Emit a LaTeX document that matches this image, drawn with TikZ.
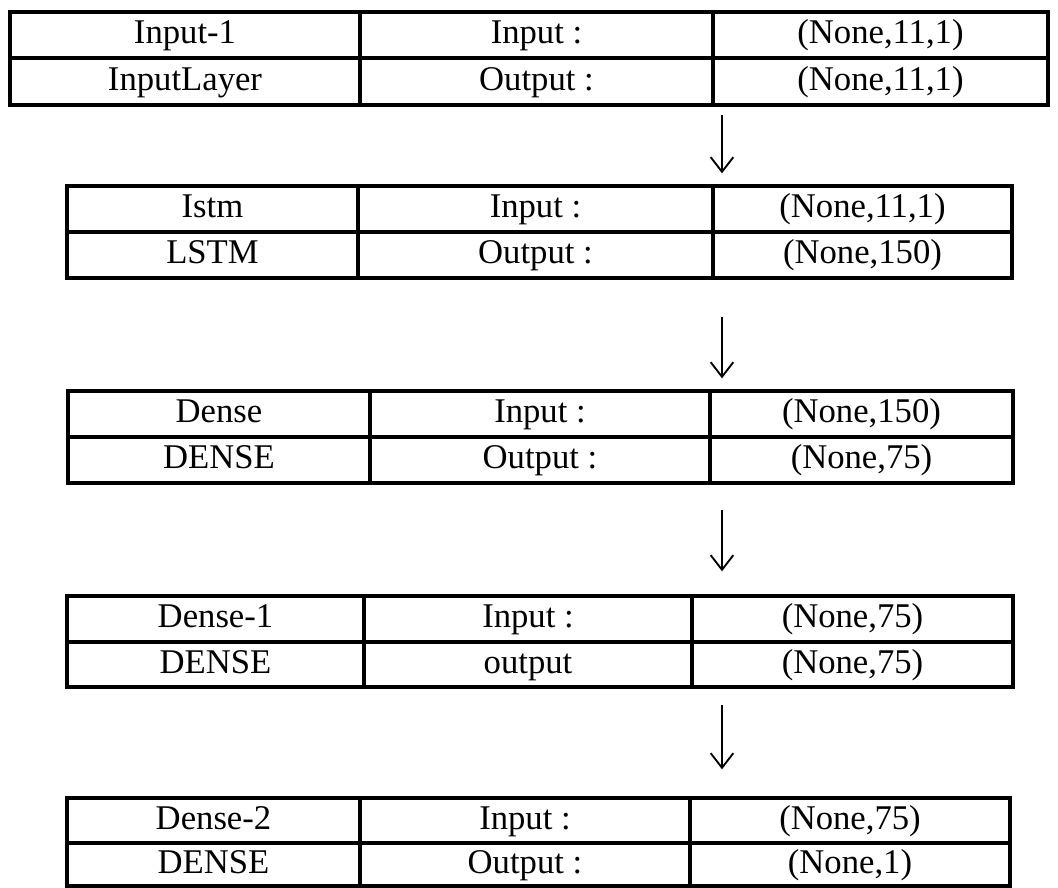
\documentclass[tikz,border=0pt]{standalone}
\usepackage{fontspec}
\setmainfont{Liberation Serif}
\usetikzlibrary{arrows.meta,fit}
\begin{document}
\begin{tikzpicture}[x=0.75pt,y=-0.75pt,
  frame/.style={draw,line width=3pt,inner sep=0pt},
  rule/.style={line width=3pt},
  cell/.style={inner sep=0pt,text height=19.5pt,text depth=6.5pt,
    font=\fontsize{26}{31}\selectfont},
  flow/.style={line width=1.4pt,-{Straight Barb[length=11pt,width=17pt,line width=1.4pt]}}]
\useasboundingbox (0,0) rectangle (1058,888);
\coordinate (ax) at (722,0);

% Input-1
\node[frame,fit={(10,12) (1048,105)}] (t1) {};
\draw[rule] (10,58.5) -- (1048,58.5) (360,12) -- (360,105) (713,12) -- (713,105);
\node[cell] (t1a) at (185,35) {Input-1};
\node[cell] (t1b) at (536.5,35) {Input :};
\node[cell] (t1c) at (880.5,35) {(None,11,1)};
\node[cell] (t1d) at (185,82) {InputLayer};
\node[cell] (t1e) at (536.5,82) {Output :};
\node[cell] (t1f) at (880.5,82) {(None,11,1)};

% lstm
\node[frame,fit={(67,186) (1012,278)}] (t2) {};
\draw[rule] (67,232) -- (1012,232) (358,186) -- (358,278) (713,186) -- (713,278);
\node[cell] (t2a) at (212.5,209) {Istm};
\node[cell] (t2b) at (535.5,209) {Input :};
\node[cell] (t2c) at (862.5,209) {(None,11,1)};
\node[cell] (t2d) at (212.5,255) {LSTM};
\node[cell] (t2e) at (535.5,255) {Output :};
\node[cell] (t2f) at (862.5,255) {(None,150)};

% Dense
\node[frame,fit={(68,391) (1013,483)}] (t3) {};
\draw[rule] (68,437) -- (1013,437) (370,391) -- (370,483) (710,391) -- (710,483);
\node[cell] (t3a) at (219,414) {Dense};
\node[cell] (t3b) at (540,414) {Input :};
\node[cell] (t3c) at (861.5,414) {(None,150)};
\node[cell] (t3d) at (219,460) {DENSE};
\node[cell] (t3e) at (540,460) {Output :};
\node[cell] (t3f) at (861.5,460) {(None,75)};

% Dense-1
\node[frame,fit={(67,596) (1013,687)}] (t4) {};
\draw[rule] (67,642) -- (1013,642) (364,596) -- (364,687) (692,596) -- (692,687);
\node[cell] (t4a) at (215.5,619) {Dense-1};
\node[cell] (t4b) at (528,619) {Input :};
\node[cell] (t4c) at (852.5,619) {(None,75)};
\node[cell] (t4d) at (215.5,664.5) {DENSE};
\node[cell] (t4e) at (528,664.5) {output};
\node[cell] (t4f) at (852.5,664.5) {(None,75)};

% Dense-2
\node[frame,fit={(67,798) (1010,886)}] (t5) {};
\draw[rule] (67,843) -- (1010,843) (360,798) -- (360,886) (690,798) -- (690,886);
\node[cell] (t5a) at (213.5,820.5) {Dense-2};
\node[cell] (t5b) at (525,820.5) {Input :};
\node[cell] (t5c) at (850,820.5) {(None,75)};
\node[cell] (t5d) at (213.5,864.5) {DENSE};
\node[cell] (t5e) at (525,864.5) {Output :};
\node[cell] (t5f) at (850,864.5) {(None,1)};

% flow between layers
\draw[flow,shorten <=6pt,shorten >=8pt] (t1.south -| ax) -- (t2.north -| ax);
\draw[flow,shorten <=28pt,shorten >=8pt] (t2.south -| ax) -- (t3.north -| ax);
\draw[flow,shorten <=19pt,shorten >=17pt] (t3.south -| ax) -- (t4.north -| ax);
\draw[flow,shorten <=12pt,shorten >=20pt] (t4.south -| ax) -- (t5.north -| ax);
\end{tikzpicture}
\end{document}
